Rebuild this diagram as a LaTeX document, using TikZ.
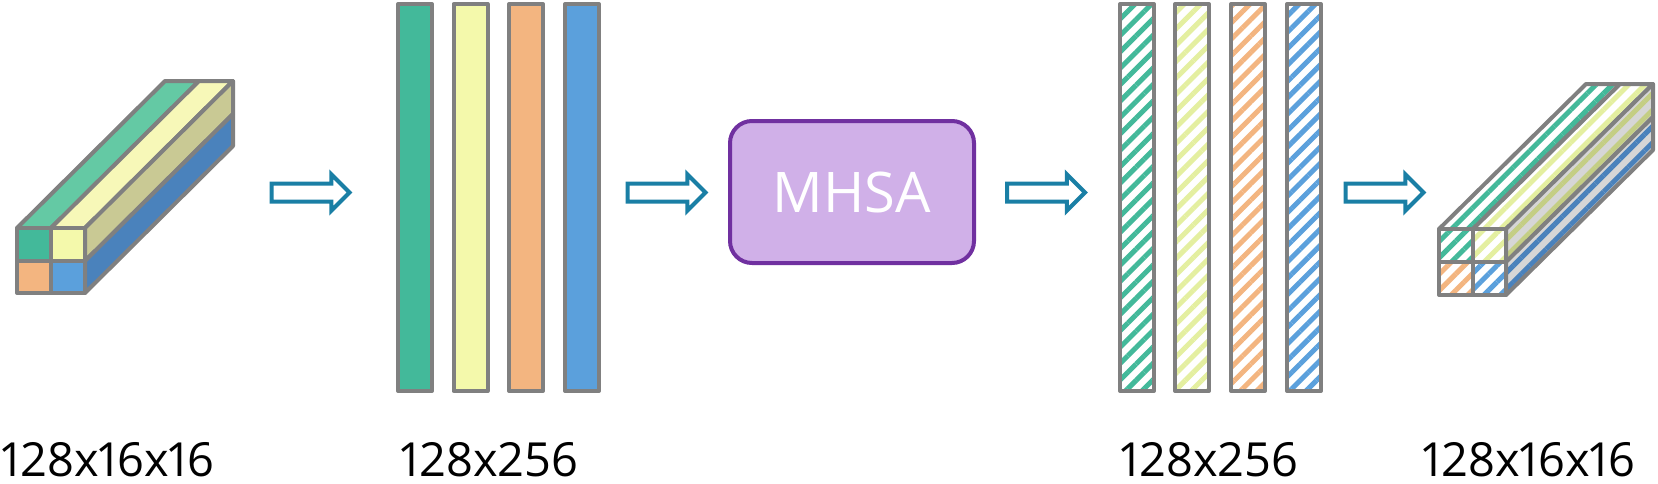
\documentclass[tikz,border=0pt]{standalone}
\usepackage{fontspec}
\setmainfont{Open Sans}[Numbers=Proportional]
\usetikzlibrary{shapes.arrows,patterns.meta}

\definecolor{cgray}{HTML}{808080}
\definecolor{cgreen}{HTML}{43B99A}
\definecolor{cyellow}{HTML}{F4F9AB}
\definecolor{corange}{HTML}{F3B580}
\definecolor{cblue}{HTML}{5BA0DC}
\definecolor{cgreentop}{HTML}{64C9A4}
\definecolor{cyellowtop}{HTML}{F7F8B8}
\definecolor{colive}{HTML}{C9C994}
\definecolor{cbluedark}{HTML}{4A82BC}
\definecolor{cside}{HTML}{D6D6D6}
\definecolor{cpale}{HTML}{E4EFA0}
\definecolor{colivehatch}{HTML}{C4CE84}
\definecolor{carrow}{HTML}{1A7FA5}
\definecolor{cmhsa}{HTML}{D0B0E8}
\definecolor{cpurple}{HTML}{7030A0}

\begin{document}
\begin{tikzpicture}[
  x=0.5pt, y=-0.5pt,
  edge/.style  = {draw=cgray, line width=2pt, line join=round},
  bar/.style   = {edge, minimum width=17pt, minimum height=193.5pt, inner sep=0pt},
  hatch/.style = {pattern={Lines[angle=45, distance=5.8pt, line width=2.5pt]},
                  pattern color=#1},
  hbar/.style  = {bar, preaction={fill=white}, hatch=#1},
  arr/.style   = {single arrow, draw=carrow, line width=2pt, fill=white,
                  minimum height=39pt, inner sep=3.5pt,
                  single arrow head extend=4.6pt, single arrow head indent=0pt},
  blk/.style   = {draw=cpurple, fill=cmhsa, line width=2pt, rounded corners=11pt,
                  minimum width=122pt, minimum height=71pt,
                  text=white, font=\fontsize{28}{30}\selectfont},
  lbl/.style   = {anchor=base, inner sep=0pt, font=\fontsize{23.5}{26}\selectfont},
]
\useasboundingbox (0,0) rectangle (1658,483);

% ================= input cube ==========================================
\draw[edge, fill=cgreentop]  (17,228) -- (51,228) -- (199,81) -- (165,81) -- cycle;
\draw[edge, fill=cyellowtop] (51,228) -- (85,228) -- (233,81) -- (199,81) -- cycle;
\draw[edge, fill=colive]     (85,228) -- (85,261) -- (233,114) -- (233,81) -- cycle;
\draw[edge, fill=cbluedark]  (85,261) -- (85,293) -- (233,146) -- (233,114) -- cycle;
\draw[edge, fill=cgreen]  (17,228) rectangle (51,261);
\draw[edge, fill=cyellow] (51,228) rectangle (85,261);
\draw[edge, fill=corange] (17,261) rectangle (51,293);
\draw[edge, fill=cblue]   (51,261) rectangle (85,293);

\node[arr] (a1) at (306,192.5) {};

% ================= flattened tokens ====================================
\node[bar, fill=cgreen]  (t1) at (415,197.5) {};
\node[bar, fill=cyellow] (t2) at (470.5,197.5) {};
\node[bar, fill=corange] (t3) at (526,197.5) {};
\node[bar, fill=cblue]   (t4) at (582,197.5) {};

\node[arr] (a2) at (662,192.5) {};

% ================= attention ===========================================
\node[blk] (mhsa) at (852,192) {MHSA};

\node[arr] (a3) at (1041.5,192.5) {};

% ================= attended tokens =====================================
\node[hbar=cgreen]  (h1) at (1137,197.5) {};
\node[hbar=cpale]   (h2) at (1192,197.5) {};
\node[hbar=corange] (h3) at (1248,197.5) {};
\node[hbar=cblue]   (h4) at (1304,197.5) {};

\node[arr] (a4) at (1380,192.5) {};

% ================= output cube =========================================
\draw[edge, preaction={fill=white}, hatch=cgreen]
  (1439,229) -- (1473,229) -- (1620,84) -- (1586,84) -- cycle;
\draw[edge, preaction={fill=white}, hatch=cpale]
  (1473,229) -- (1506,229) -- (1653,84) -- (1620,84) -- cycle;
\draw[edge, preaction={fill=cside}, hatch=colivehatch]
  (1506,229) -- (1506,262) -- (1653,117) -- (1653,84) -- cycle;
\draw[edge, preaction={fill=cside}, hatch=cbluedark]
  (1506,262) -- (1506,295) -- (1653,150) -- (1653,117) -- cycle;
\draw[edge, preaction={fill=white}, hatch=cgreen]  (1439,229) rectangle (1473,262);
\draw[edge, preaction={fill=white}, hatch=cpale]   (1473,229) rectangle (1506,262);
\draw[edge, preaction={fill=white}, hatch=corange] (1439,262) rectangle (1473,295);
\draw[edge, preaction={fill=white}, hatch=cblue]   (1473,262) rectangle (1506,295);

% ================= sizes ===============================================
\node[lbl] (sin)   at (108,476)    {128x16x16};
\node[lbl] (sflat) at (489.5,476)  {128x256};
\node[lbl] (satt)  at (1209.5,476) {128x256};
\node[lbl] (sout)  at (1529,476)   {128x16x16};

\end{tikzpicture}
\end{document}
